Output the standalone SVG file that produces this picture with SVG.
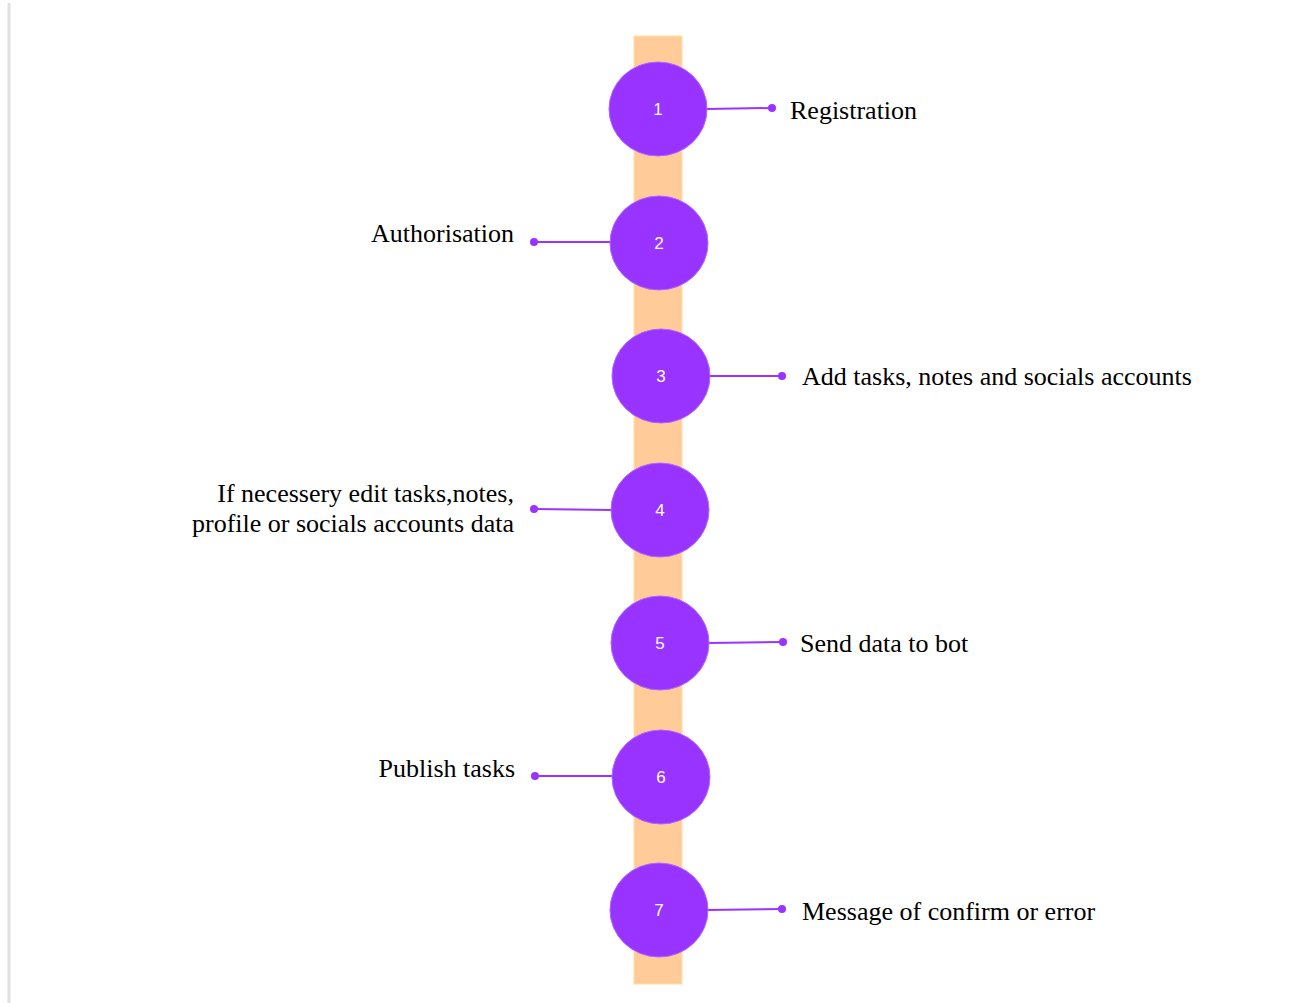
<svg xmlns="http://www.w3.org/2000/svg" width="1298" height="1003" viewBox="0 0 1298 1003">
<style>
.lbl{font-family:"Liberation Serif","Times New Roman",serif;font-size:26px;fill:#000}
.num{font-family:"Liberation Sans",Arial,sans-serif;font-size:17px;fill:#fff;text-anchor:middle}
.node{fill:#9933ff;stroke:#b066ff;stroke-width:1}
.con line{stroke:#9933ff;stroke-width:2}
.con circle{fill:#9933ff}
</style>
<rect width="1298" height="1003" fill="#fff"/>
<line x1="9" y1="3" x2="9" y2="1003" stroke="#e0e0e0" stroke-width="3"/>
<rect id="bar" x="634" y="36" width="48" height="948" fill="#ffcc99" stroke="#ffe0a0" stroke-width="1"/>
<g id="connectors" class="con">
<line x1="706" y1="109" x2="772" y2="108"/><circle cx="772" cy="108" r="4"/>
<line x1="534" y1="242" x2="611" y2="242"/><circle cx="534" cy="242" r="4"/>
<line x1="709" y1="376" x2="782" y2="376"/><circle cx="782" cy="376" r="4"/>
<line x1="534" y1="509" x2="612" y2="510"/><circle cx="534" cy="509" r="4"/>
<line x1="708" y1="643" x2="783" y2="642"/><circle cx="783" cy="642" r="4"/>
<line x1="535" y1="776" x2="613" y2="776"/><circle cx="535" cy="776" r="4"/>
<line x1="707" y1="910" x2="782" y2="909"/><circle cx="782" cy="909" r="4"/>
</g>
<g id="n1"><ellipse class="node" cx="658" cy="109" rx="49" ry="47"/><text class="num" x="658" y="115">1</text></g>
<g id="n2"><ellipse class="node" cx="659" cy="243" rx="49" ry="47"/><text class="num" x="659" y="249">2</text></g>
<g id="n3"><ellipse class="node" cx="661" cy="376" rx="49" ry="47"/><text class="num" x="661" y="382">3</text></g>
<g id="n4"><ellipse class="node" cx="660" cy="510" rx="49" ry="47"/><text class="num" x="660" y="516">4</text></g>
<g id="n5"><ellipse class="node" cx="660" cy="643" rx="49" ry="47"/><text class="num" x="660" y="649">5</text></g>
<g id="n6"><ellipse class="node" cx="661" cy="777" rx="49" ry="47"/><text class="num" x="661" y="783">6</text></g>
<g id="n7"><ellipse class="node" cx="659" cy="910" rx="49" ry="47"/><text class="num" x="659" y="916">7</text></g>
<g id="labels">
<text class="lbl" x="790" y="119">Registration</text>
<text class="lbl" x="514" y="242" text-anchor="end">Authorisation</text>
<text class="lbl" x="802" y="385">Add tasks, notes and socials accounts</text>
<text class="lbl" x="514" y="502" text-anchor="end">If necessery edit tasks,notes,</text>
<text class="lbl" x="514" y="532" text-anchor="end">profile or socials accounts data</text>
<text class="lbl" x="800" y="652">Send data to bot</text>
<text class="lbl" x="515" y="777" text-anchor="end">Publish tasks</text>
<text class="lbl" x="802" y="920">Message of confirm or error</text>
</g>
</svg>
